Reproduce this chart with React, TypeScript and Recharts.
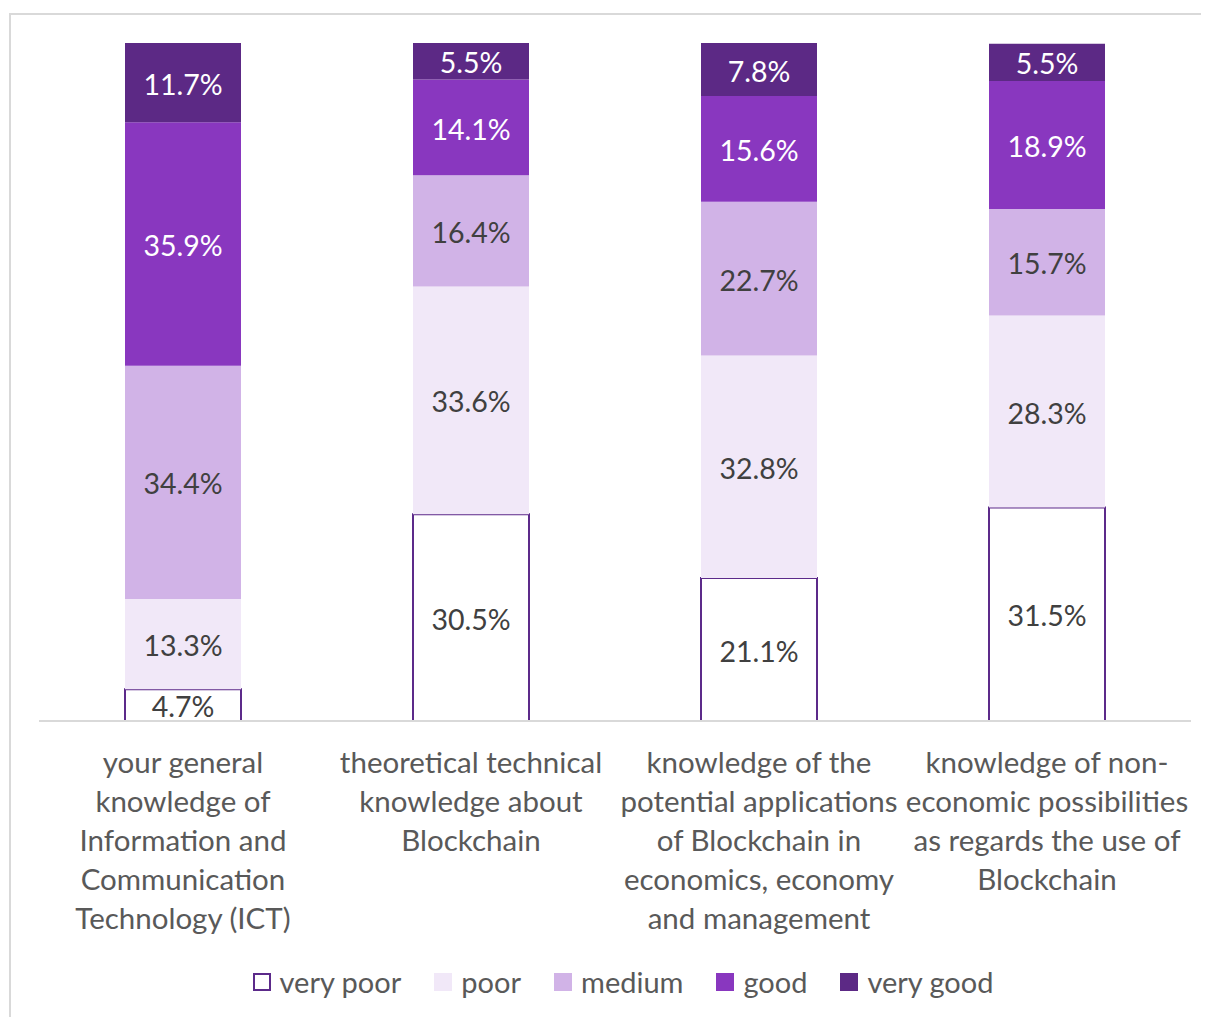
import { BarChart, Bar, XAxis, YAxis, LabelList } from 'recharts'

const categories = [
  'your general knowledge of Information and Communication Technology (ICT)',
  'theoretical technical knowledge about Blockchain',
  'knowledge of the potential applications of Blockchain in economics, economy and management',
  'knowledge of non-economic possibilities as regards the use of Blockchain',
]

// wrapped tick labels, one array per category
const tickLines = [
  ['your general', 'knowledge of', 'Information and', 'Communication', 'Technology (ICT)'],
  ['theoretical technical', 'knowledge about', 'Blockchain'],
  ['knowledge of the', 'potential applications', 'of Blockchain in', 'economics, economy', 'and management'],
  ['knowledge of non-', 'economic possibilities', 'as regards the use of', 'Blockchain'],
]

const veryPoor = [4.7, 30.5, 21.1, 31.5]
const poor = [13.3, 33.6, 32.8, 28.3]
const medium = [34.4, 16.4, 22.7, 15.7]
const good = [35.9, 14.1, 15.6, 18.9]
const veryGood = [11.7, 5.5, 7.8, 5.5]

const series = [
  { key: 'veryPoor', name: 'very poor', fill: '#ffffff', stroke: '#5c2a8a', label: '#404040' },
  { key: 'poor', name: 'poor', fill: '#f1e8f8', stroke: 'none', label: '#404040' },
  { key: 'medium', name: 'medium', fill: '#d1b3e7', stroke: 'none', label: '#404040' },
  { key: 'good', name: 'good', fill: '#8937bf', stroke: 'none', label: '#ffffff' },
  { key: 'veryGood', name: 'very good', fill: '#5c2985', stroke: 'none', label: '#ffffff' },
]

const data = categories.map((cat, i) => ({
  cat,
  veryPoor: veryPoor[i],
  poor: poor[i],
  medium: medium[i],
  good: good[i],
  veryGood: veryGood[i],
}))

const FONT = 'Lato, "Noto Sans", sans-serif'

const CategoryTick = ({ x, y, payload }: any) => {
  const lines = tickLines[categories.indexOf(payload.value)] || [payload.value]
  return (
    <text x={x} y={y + 44} textAnchor="middle" fill="#595959" fontSize={29.5} fontFamily={FONT}>
      {lines.map((l, i) => (
        <tspan key={i} x={x} dy={i === 0 ? 0 : 39}>
          {l}
        </tspan>
      ))}
    </text>
  )
}

export default function App() {
  return (
    <div style={{ position: 'relative', width: 1201, height: 1009, fontFamily: FONT, overflow: 'hidden' }}>
      <div
        style={{
          position: 'absolute',
          left: 1,
          top: 5,
          width: 1230,
          height: 1030,
          border: '2px solid #d9d9d9',
          boxSizing: 'border-box',
        }}
      />
      <BarChart
        width={1201}
        height={1009}
        data={data}
        margin={{ top: 35, right: 18, left: 31, bottom: 0 }}
        barSize={116}
        style={{ position: 'absolute', left: 0, top: 0 }}
      >
        <XAxis
          dataKey="cat"
          height={296}
          axisLine={{ stroke: '#d9d9d9', strokeWidth: 2 }}
          tickLine={false}
          interval={0}
          tick={<CategoryTick />}
        />
        <YAxis hide domain={[0, 100]} allowDataOverflow />
        {series.map(s => (
          <Bar
            key={s.key}
            dataKey={s.key}
            name={s.name}
            stackId="a"
            fill={s.fill}
            stroke={s.stroke}
            strokeWidth={s.stroke === 'none' ? 0 : 2}
            isAnimationActive={false}
          >
            <LabelList
              dataKey={s.key}
              position="center"
              fill={s.label}
              fontSize={28.5}
              fontFamily={FONT}
              dy={2}
              formatter={(v: any) => `${Number(v).toFixed(1)}%`}
            />
          </Bar>
        ))}
      </BarChart>
      <div
        style={{
          position: 'absolute',
          left: 0,
          width: 1230,
          top: 957,
          display: 'flex',
          justifyContent: 'center',
          gap: 33,
          color: '#595959',
          fontSize: 29,
          lineHeight: '34px',
        }}
      >
        {series.map(s => (
          <div key={s.key} style={{ display: 'flex', alignItems: 'center', gap: 9 }}>
            <span
              style={{
                width: 18,
                height: 18,
                background: s.fill,
                border: s.stroke === 'none' ? 'none' : `2px solid ${s.stroke}`,
                boxSizing: 'border-box',
                display: 'inline-block',
              }}
            />
            <span>{s.name}</span>
          </div>
        ))}
      </div>
    </div>
  )
}
